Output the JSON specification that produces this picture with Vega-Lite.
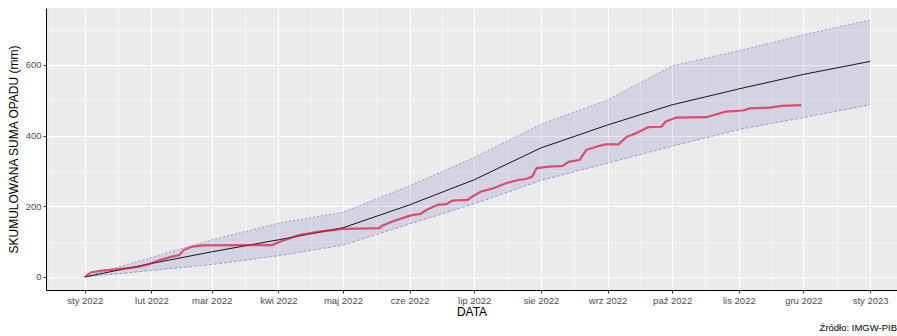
{
  "$schema": "https://vega.github.io/schema/vega-lite/v6.json",
  "width": 851,
  "height": 282,
  "autosize": "none",
  "padding": {"left": 46, "top": 8, "right": 0, "bottom": 46},
  "background": "white",
  "title": {"text": "Źródło: IMGW-PIB", "orient": "bottom", "anchor": "end", "fontSize": 9.5, "fontWeight": "normal", "color": "black", "font": "Liberation Sans", "offset": 5},
  "data": {"name": "clim"},
  "datasets": {
    "clim": [
      {"date": "2022-01-01T00:00:00", "lower": 0, "mean": 0, "upper": 0},
      {"date": "2022-02-01T00:00:00", "lower": 18, "mean": 38, "upper": 55},
      {"date": "2022-03-01T00:00:00", "lower": 35, "mean": 71, "upper": 105},
      {"date": "2022-04-01T00:00:00", "lower": 60, "mean": 105, "upper": 152},
      {"date": "2022-05-01T00:00:00", "lower": 90, "mean": 139, "upper": 183},
      {"date": "2022-06-01T00:00:00", "lower": 150, "mean": 204, "upper": 258},
      {"date": "2022-07-01T00:00:00", "lower": 207, "mean": 275, "upper": 338},
      {"date": "2022-08-01T00:00:00", "lower": 273, "mean": 365, "upper": 432},
      {"date": "2022-09-01T00:00:00", "lower": 322, "mean": 430, "upper": 501},
      {"date": "2022-10-01T00:00:00", "lower": 370, "mean": 487, "upper": 597},
      {"date": "2022-11-01T00:00:00", "lower": 417, "mean": 532, "upper": 640},
      {"date": "2022-12-01T00:00:00", "lower": 451, "mean": 573, "upper": 685},
      {"date": "2023-01-01T00:00:00", "lower": 487, "mean": 610, "upper": 727}
    ],
    "obs": [
      {"day": "2022-01-01T00:00:00", "value": 0},
      {"day": "2022-01-04T00:00:00", "value": 13},
      {"day": "2022-01-09T00:00:00", "value": 18},
      {"day": "2022-01-18T00:00:00", "value": 23},
      {"day": "2022-01-26T00:00:00", "value": 28},
      {"day": "2022-01-31T00:00:00", "value": 37},
      {"day": "2022-02-05T00:00:00", "value": 48},
      {"day": "2022-02-11T00:00:00", "value": 58},
      {"day": "2022-02-14T00:00:00", "value": 62},
      {"day": "2022-02-16T00:00:00", "value": 76},
      {"day": "2022-02-20T00:00:00", "value": 86},
      {"day": "2022-02-25T00:00:00", "value": 89},
      {"day": "2022-03-29T00:00:00", "value": 90},
      {"day": "2022-04-02T00:00:00", "value": 100},
      {"day": "2022-04-08T00:00:00", "value": 113},
      {"day": "2022-04-11T00:00:00", "value": 119},
      {"day": "2022-04-20T00:00:00", "value": 128},
      {"day": "2022-05-01T00:00:00", "value": 136},
      {"day": "2022-05-18T00:00:00", "value": 138},
      {"day": "2022-05-19T00:00:00", "value": 144},
      {"day": "2022-05-24T00:00:00", "value": 157},
      {"day": "2022-05-29T00:00:00", "value": 167},
      {"day": "2022-06-02T00:00:00", "value": 175},
      {"day": "2022-06-06T00:00:00", "value": 178},
      {"day": "2022-06-09T00:00:00", "value": 190},
      {"day": "2022-06-14T00:00:00", "value": 204},
      {"day": "2022-06-18T00:00:00", "value": 206},
      {"day": "2022-06-21T00:00:00", "value": 216},
      {"day": "2022-06-28T00:00:00", "value": 218},
      {"day": "2022-06-30T00:00:00", "value": 227},
      {"day": "2022-07-04T00:00:00", "value": 241},
      {"day": "2022-07-10T00:00:00", "value": 251},
      {"day": "2022-07-16T00:00:00", "value": 266},
      {"day": "2022-07-22T00:00:00", "value": 275},
      {"day": "2022-07-25T00:00:00", "value": 277},
      {"day": "2022-07-28T00:00:00", "value": 284},
      {"day": "2022-07-30T00:00:00", "value": 308},
      {"day": "2022-08-05T00:00:00", "value": 312},
      {"day": "2022-08-11T00:00:00", "value": 314},
      {"day": "2022-08-14T00:00:00", "value": 326},
      {"day": "2022-08-19T00:00:00", "value": 331},
      {"day": "2022-08-22T00:00:00", "value": 359},
      {"day": "2022-08-27T00:00:00", "value": 369},
      {"day": "2022-08-31T00:00:00", "value": 375},
      {"day": "2022-09-06T00:00:00", "value": 375},
      {"day": "2022-09-10T00:00:00", "value": 397},
      {"day": "2022-09-14T00:00:00", "value": 406},
      {"day": "2022-09-20T00:00:00", "value": 424},
      {"day": "2022-09-26T00:00:00", "value": 425},
      {"day": "2022-09-28T00:00:00", "value": 440},
      {"day": "2022-10-03T00:00:00", "value": 451},
      {"day": "2022-10-17T00:00:00", "value": 452},
      {"day": "2022-10-22T00:00:00", "value": 461},
      {"day": "2022-10-26T00:00:00", "value": 468},
      {"day": "2022-11-03T00:00:00", "value": 471},
      {"day": "2022-11-06T00:00:00", "value": 477},
      {"day": "2022-11-15T00:00:00", "value": 479},
      {"day": "2022-11-21T00:00:00", "value": 484},
      {"day": "2022-11-30T00:00:00", "value": 486}
    ]
  },
  "resolve": {"axis": {"x": "independent", "y": "independent"}},
  "layer": [
    {
      "mark": {"type": "area", "fill": "#00008B", "fillOpacity": 0.1, "clip": true},
      "encoding": {
        "x": {"field": "date", "type": "temporal",
          "scale": {"domain": [{"year": 2021, "month": 12, "date": 14}, {"year": 2023, "month": 1, "date": 13, "hours": 12}], "nice": false},
          "axis": {"orient": "bottom", "title": null, "labels": false, "ticks": false, "domain": false, "grid": true, "gridColor": "white", "gridWidth": 0.5,
            "values": [
              {"year": 2021, "month": 12, "date": 16, "hours": 12},
              {"year": 2022, "month": 1, "date": 16, "hours": 12},
              {"year": 2022, "month": 2, "date": 15},
              {"year": 2022, "month": 3, "date": 16, "hours": 12},
              {"year": 2022, "month": 4, "date": 16},
              {"year": 2022, "month": 5, "date": 16, "hours": 12},
              {"year": 2022, "month": 6, "date": 16},
              {"year": 2022, "month": 7, "date": 16, "hours": 12},
              {"year": 2022, "month": 8, "date": 16, "hours": 12},
              {"year": 2022, "month": 9, "date": 16},
              {"year": 2022, "month": 10, "date": 16, "hours": 12},
              {"year": 2022, "month": 11, "date": 16},
              {"year": 2022, "month": 12, "date": 16, "hours": 12}
            ]}},
        "y": {"field": "lower", "type": "quantitative",
          "scale": {"domain": [-37, 761], "nice": false, "zero": false},
          "axis": {"orient": "left", "title": null, "labels": false, "ticks": false, "domain": false, "grid": true, "gridColor": "white", "gridWidth": 0.5, "values": [100, 300, 500, 700]}},
        "y2": {"field": "upper"}
      }
    },
    {
      "mark": {"type": "line", "color": "#6A6AA8", "strokeWidth": 0.6, "strokeDash": [2, 2], "clip": true},
      "encoding": {
        "x": {"field": "date", "type": "temporal",
          "axis": {"orient": "bottom", "title": "DATA", "titleFontSize": 12, "titleFontWeight": "normal", "titleColor": "black", "titlePadding": 2,
            "grid": true, "gridColor": "white", "gridWidth": 1.1,
            "domain": true, "domainColor": "black", "domainWidth": 1,
            "ticks": true, "tickColor": "#333333", "tickSize": 3,
            "labelFontSize": 9.5, "labelColor": "#4D4D4D", "labelPadding": 2,
            "labelExpr": "['sty','lut','mar','kwi','maj','cze','lip','sie','wrz','paź','lis','gru'][month(datum.value)] + ' ' + year(datum.value)",
            "values": [
              {"year": 2022, "month": 1, "date": 1},
              {"year": 2022, "month": 2, "date": 1},
              {"year": 2022, "month": 3, "date": 1},
              {"year": 2022, "month": 4, "date": 1},
              {"year": 2022, "month": 5, "date": 1},
              {"year": 2022, "month": 6, "date": 1},
              {"year": 2022, "month": 7, "date": 1},
              {"year": 2022, "month": 8, "date": 1},
              {"year": 2022, "month": 9, "date": 1},
              {"year": 2022, "month": 10, "date": 1},
              {"year": 2022, "month": 11, "date": 1},
              {"year": 2022, "month": 12, "date": 1},
              {"year": 2023, "month": 1, "date": 1}
            ]}},
        "y": {"field": "upper", "type": "quantitative",
          "axis": {"orient": "left", "title": "SKUMULOWANA SUMA OPADU (mm)", "titleFontSize": 12, "titleFontWeight": "normal", "titleColor": "black", "titlePadding": 5,
            "grid": true, "gridColor": "white", "gridWidth": 1.1,
            "domain": true, "domainColor": "black", "domainWidth": 1,
            "ticks": true, "tickColor": "#333333", "tickSize": 3,
            "labelFontSize": 9.5, "labelColor": "#4D4D4D", "labelPadding": 2,
            "values": [0, 200, 400, 600]}}
      }
    },
    {
      "mark": {"type": "line", "color": "#6A6AA8", "strokeWidth": 0.6, "strokeDash": [3, 2], "clip": true},
      "encoding": {
        "x": {"field": "date", "type": "temporal", "axis": null},
        "y": {"field": "lower", "type": "quantitative", "axis": null}
      }
    },
    {
      "mark": {"type": "line", "color": "black", "strokeWidth": 0.9, "clip": true},
      "encoding": {
        "x": {"field": "date", "type": "temporal", "axis": null},
        "y": {"field": "mean", "type": "quantitative", "axis": null}
      }
    },
    {
      "data": {"name": "obs"},
      "mark": {"type": "line", "color": "#DC143C", "strokeOpacity": 0.7, "strokeWidth": 2.2, "clip": true},
      "encoding": {
        "x": {"field": "day", "type": "temporal", "axis": null},
        "y": {"field": "value", "type": "quantitative", "axis": null}
      }
    }
  ],
  "config": {
    "font": "Liberation Sans",
    "view": {"fill": "#EBEBEB", "stroke": null},
    "axis": {"labelFont": "Liberation Sans", "titleFont": "Liberation Sans"}
  }
}
